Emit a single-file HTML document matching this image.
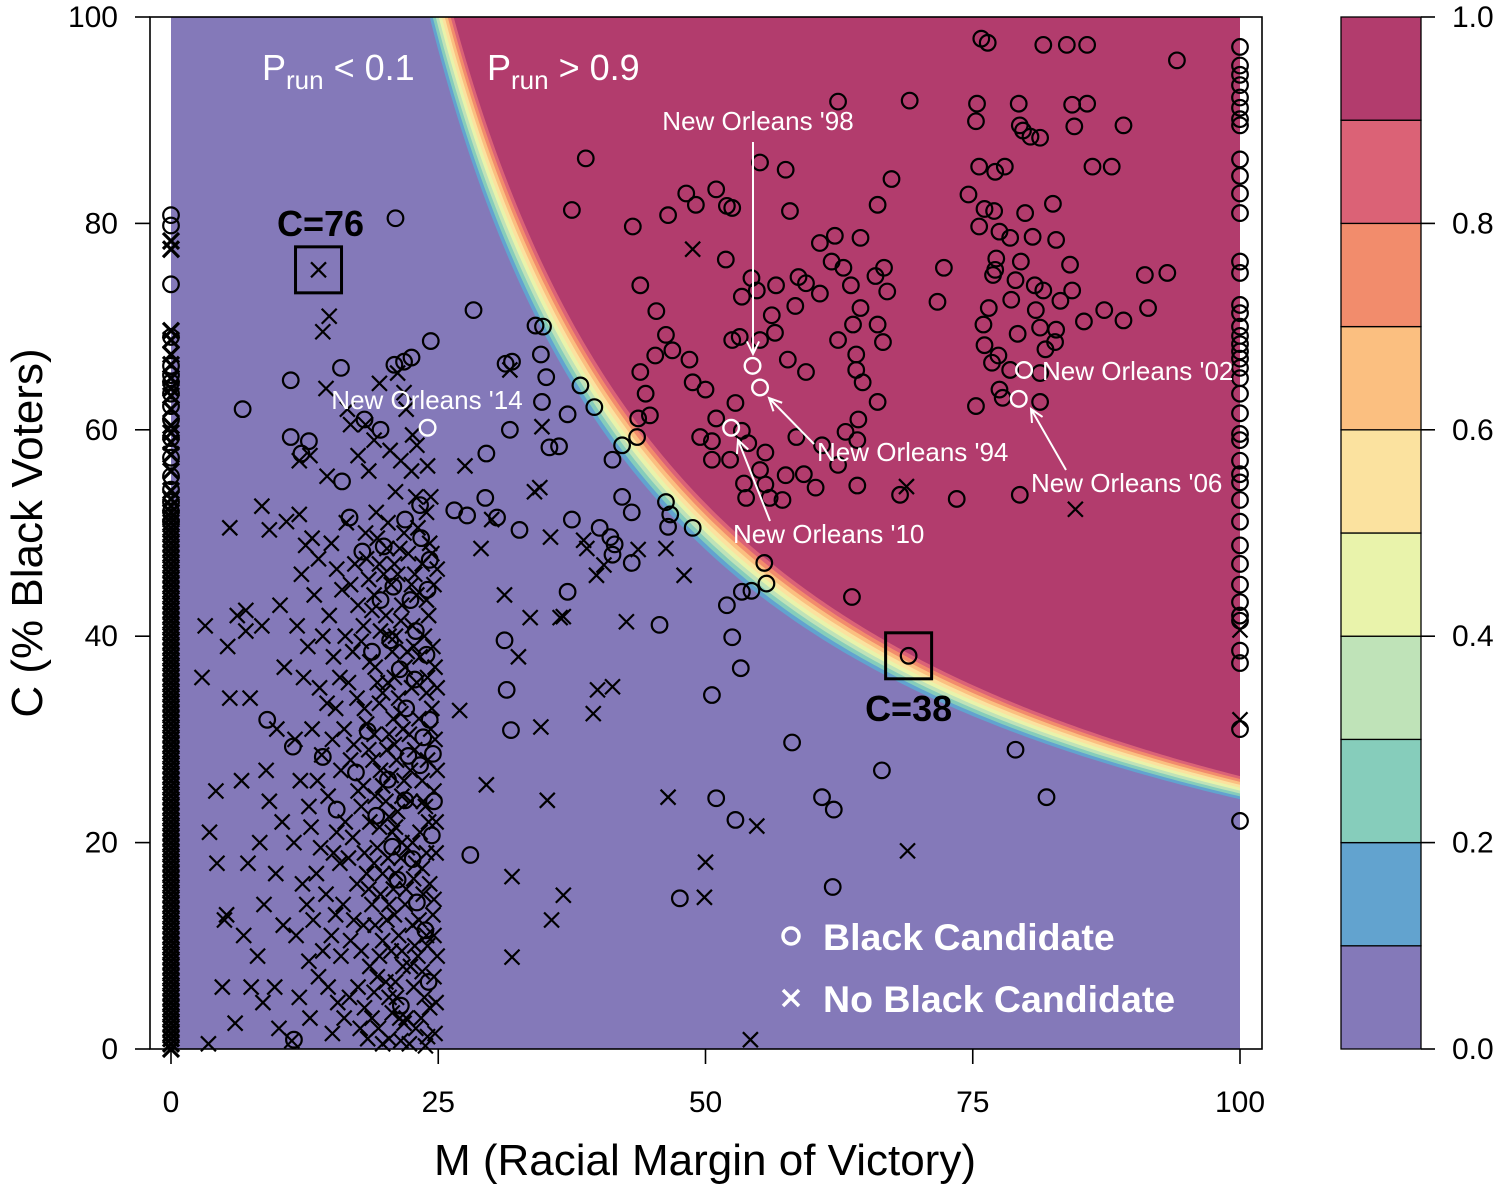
<!DOCTYPE html>
<html><head><meta charset="utf-8">
<style>
html,body{margin:0;padding:0;background:#fff;}
svg{display:block;font-family:"Liberation Sans",Arial,sans-serif;}
</style></head>
<body>
<svg id="chart" width="1502" height="1197" viewBox="0 0 1502 1197" xmlns="http://www.w3.org/2000/svg">
<g id="fills"></g>
<g id="marks"></g>
<g id="annot"></g>
<g id="axes"></g>
<g id="cbar"></g>
</svg>
<script>
// ---------- data ----------
const xTicks = [0, 25, 50, 75, 100];
const yTicks = [0, 20, 40, 60, 80, 100];
const cbarTicks = ["0.0", "0.2", "0.4", "0.6", "0.8", "1.0"];
const levelProbs = [0.1, 0.2, 0.3, 0.4, 0.5, 0.6, 0.7, 0.8, 0.9];
const levelK = [2420, 2448, 2476, 2504, 2532, 2560, 2588, 2616, 2644];
const levelColors = ["#8479B9", "#62A3CF", "#86CDBB", "#BFE3B8", "#E9F3AB", "#FBE29F", "#FBBF80", "#F28C6C", "#DB6276", "#B23C6D"];

const blackCandidates = [
[38.8,86.3],[37.5,81.3],[43.2,79.7],[43.9,74.0],[45.4,71.5],[46.5,80.8],[48.2,82.9],[49.1,81.8],[51.0,83.3],[52.0,81.7],[52.5,81.5],[55.1,85.9],[57.5,85.2],[62.4,91.8],[69.1,91.9],[67.4,84.3],[66.1,81.8],[64.5,78.6],[62.1,78.8],[60.7,78.1],[57.9,81.2],[51.9,76.5],[53.4,72.9],[54.8,73.5],[56.6,74.0],[54.3,74.7],[59.4,74.2],[58.7,74.8],[61.8,76.3],[62.9,75.7],[63.6,74.0],[65.9,74.9],[66.7,75.7],[67.0,73.4],[66.1,70.2],[64.5,71.8],[63.8,70.2],[60.7,73.2],[58.4,72.0],[56.2,71.1],[56.5,69.4],[53.2,69.0],[52.5,68.7],[55.1,68.7],[57.7,66.8],[59.4,65.6],[62.4,68.7],[64.1,67.3],[64.1,65.8],[66.6,68.5],[64.7,64.6],[46.3,69.2],[45.3,67.2],[43.9,65.6],[44.4,63.5],[46.9,67.7],[48.5,66.8],[48.8,64.6],[50.0,63.9],[51.0,61.1],[52.8,62.6],[44.8,61.4],[43.7,61.1],[42.2,58.5],[43.6,59.3],[41.3,57.1],[39.6,62.2],[38.3,64.3],[37.1,61.5],[35.1,65.1],[34.7,62.7],[34.1,70.1],[34.6,67.3],[49.5,59.3],[50.6,58.9],[53.4,59.9],[54.0,58.7],[55.6,57.8],[58.5,59.3],[57.5,55.6],[59.2,55.7],[55.1,56.1],[55.6,54.7],[53.6,54.8],[53.8,53.4],[52.3,57.1],[50.6,57.1],[56.0,53.4],[57.2,53.2],[60.9,58.5],[63.1,59.8],[64.2,59.0],[64.2,54.6],[68.2,53.7],[73.5,53.3],[66.1,62.7],[64.3,61.0],[62.4,56.6],[60.3,54.4],[55.5,47.1],[55.7,45.1],[54.3,44.4],[53.4,44.3],[52.0,43.0],[52.5,39.9],[53.3,36.9],[50.6,34.3],[51.0,24.3],[52.8,22.2],[58.1,29.7],[60.9,24.4],[62.0,23.2],[61.9,15.7],[63.7,43.8],[66.5,27.0],[47.6,14.6],[46.7,51.8],[46.5,50.6],[48.8,50.5],[41.1,49.6],[41.3,47.9],[43.1,47.1],[45.7,41.1],[43.1,52.0],[42.2,53.5],[40.1,50.5],[37.5,51.3],[28.3,71.6],[31.3,66.4],[31.9,66.6],[34.8,70.0],[31.7,60.0],[29.5,57.7],[26.5,52.2],[27.7,51.7],[29.4,53.4],[30.5,51.5],[32.6,50.3],[36.3,58.4],[37.1,44.3],[31.2,39.6],[31.4,34.8],[31.8,30.9],[28.0,18.8],[35.4,58.3],[41.5,48.9],[46.3,53.0],[69.0,38.1],[79.0,29.0],[81.9,24.4],
[75.8,97.9],[76.4,97.5],[81.6,97.3],[83.8,97.3],[85.7,97.3],[94.1,95.8],[75.4,91.6],[75.3,89.9],[79.3,91.6],[74.6,82.8],[76.1,81.4],[79.4,89.5],[79.7,89.0],[80.4,88.4],[81.3,88.3],[84.3,91.5],[85.7,91.6],[84.5,89.4],[89.1,89.5],[86.2,85.5],[88.0,85.5],[78.0,85.5],[75.6,85.5],[77.1,85.0],[82.5,81.9],[75.6,79.7],[77.0,81.2],[77.5,79.2],[78.5,78.6],[79.9,81.0],[80.6,78.7],[82.8,78.4],[84.1,76.0],[83.2,72.5],[84.3,73.5],[79.5,76.3],[79.0,74.5],[78.6,72.6],[77.2,76.6],[77.1,75.5],[76.9,75.0],[76.5,71.8],[76.0,70.2],[76.1,68.2],[76.8,66.5],[77.5,63.9],[78.5,65.8],[77.4,67.2],[79.2,69.3],[81.3,69.9],[82.8,69.7],[81.8,67.8],[82.7,68.5],[81.3,65.5],[81.3,62.7],[85.4,70.5],[87.3,71.6],[89.1,70.6],[91.4,71.8],[91.1,75.0],[93.2,75.2],[79.4,53.7],[75.3,62.3],[72.3,75.7],[71.7,72.4],[77.8,63.1],[80.8,74.0],[81.6,73.5],[80.9,71.6],
[21.0,80.5],[11.2,64.8],[6.7,62.0],[24.3,68.6],[22.5,67.0],[21.8,66.6],[20.9,66.3],[15.9,66.0],[11.2,59.3],[12.9,58.9],[12.2,57.7],[16.0,55.0],[16.7,51.5],[17.9,48.2],[19.9,48.7],[21.9,51.3],[23.3,52.7],[19.6,43.5],[20.5,39.6],[22.8,35.8],[24.2,31.9],[20.3,26.1],[23.3,27.5],[21.9,24.1],[24.4,20.7],[21.2,16.4],[23.8,11.5],[22.4,43.5],[24.2,47.4],[18.1,61.0],[19.6,60.0],[11.5,0.9],[9.0,31.9],[11.4,29.3],[14.2,28.3],[15.5,23.2],[24.0,44.5],[22.0,33.0],[18.8,38.5],
[23.4,49.5],[20.8,44.8],[22.9,40.5],[21.4,36.8],[23.6,30.2],[22.2,28.4],[24.6,24.0],[20.7,19.6],[23.0,14.2],[24.1,6.5],[21.5,4.2],[18.4,30.8],[17.3,26.8],[19.2,22.6],[23.9,38.2],[24.5,28.6],[22.6,18.4]
];
const blackZeroC = [80.8,79.8,74.1,69.0,66.2,65.3,64.6,63.5,62.3,61.0,59.2,57.3,55.5,54.2,53.0,52.1,51.1];
const blackHundredC = [97.1,95.3,94.4,93.4,92.2,91.2,90.1,89.5,86.2,84.6,82.9,81.0,76.3,75.2,72.1,71.3,70.0,69.1,68.3,67.6,66.9,66.0,65.0,63.5,61.6,59.6,59.0,57.0,55.7,54.9,53.2,51.1,48.8,47.0,45.0,43.3,42.0,41.5,38.6,37.4,31.0,22.1];

const noBlackCandidates = [
[24.2,49],[23.5,47],[24.6,45],[23.0,44],[24.1,42],[22.6,41],[24.5,39],[23.3,38],[24.0,36],[22.5,35],[24.4,33],[23.2,32],[24.7,30],[22.8,29],[24.0,28],[23.5,26],[24.6,25],[22.4,24],[24.1,22],[23.3,21],[24.8,19],[22.9,18],[24.2,16],[23.6,15],[24.5,13],[22.6,12],[24.0,10],[23.1,9],[24.6,7],[22.7,6],[24.2,4],[23.4,3],[24.7,1.5],[22.3,0.5],[23.8,0.3],[21.5,0.8],[24.9,46.5],[22.2,48],[23.9,52],[22.9,53.5],[21.8,50],[21.2,46],[21.6,43],[21.0,40],[21.9,37],[21.3,34],[21.7,31],[21.1,28],[21.8,26],[21.2,23],[21.6,20],[21.0,17],[21.9,14],[21.3,11],[21.7,8],[21.1,5],[21.8,2.5],[20.4,1],[20.2,48.5],[20.6,45],[20.1,42],[20.7,38.5],[20.3,35.5],[20.8,32],[20.2,29],[20.6,26.5],[20.1,24],[20.7,21],[20.3,18.5],[20.8,15.5],[20.2,12.5],[20.6,9.5],[20.1,6.5],[20.7,3.5],[19.2,52],[19.5,47],[19.0,44],[19.6,40.5],[19.1,37],[19.5,33.5],[19.0,30.5],[19.6,27],[19.1,24.5],[19.5,21.5],[19.0,18],[19.6,15],[19.1,12],[19.5,9],[19.0,5.5],[19.4,2],[18.2,50],[18.5,45.5],[18.0,41],[18.6,37.5],[18.1,33],[18.5,29],[18.0,25.5],[18.6,22],[18.1,19],[18.5,15.5],[18.0,12],[18.6,8],[18.1,4],[18.4,1],[17.2,47],[17.5,43],[17.0,38.5],[17.4,34],[17.1,29.5],[17.5,25],[17.0,20.5],[17.4,16],[17.1,12.5],[17.5,6],[16.4,51],[16.0,44.5],[16.3,40],[15.8,36],[16.2,31],[15.9,27],[16.3,22],[15.8,18],[16.1,14],[15.9,9],[16.2,3],[15.0,49],[14.8,42],[15.2,38],[14.6,33.5],[15.1,30],[14.7,24.5],[15.2,19],[14.5,15],[15.0,11],[14.7,6],[15.1,1.5],[13.8,47.5],[13.4,44],[13.9,35],[13.2,31],[13.7,26],[13.1,21.5],[13.6,17],[13.3,12.5],[13.8,7],[13.0,3],[12.2,46],[11.8,41],[12.4,36],[11.6,30],[12.1,26],[11.5,20],[12.3,16],[11.7,11],[12.0,5],[11.3,0.8],[10.2,43],[10.6,37],[9.9,31],[10.4,22],[9.8,17],[10.5,12],[9.7,6],[10.1,2],[8.5,41],[8.9,27],[8.3,20],[8.7,14],[8.1,9],[8.6,4.5],[7.0,40.5],[7.4,34],[6.6,26],[7.2,18],[6.8,11],[7.5,6],[6.2,42],[5.3,39],[5.5,34],[4.2,25],[3.6,21],[4.3,18],[3.2,41],[4.8,6],[5.2,13],[3.5,0.5],[6.0,2.5],[2.9,36],[5.0,12.5],[9.2,24],[5.5,50.5],[7.0,42.5],[9.2,50.3],[8.5,52.6],[10.8,51.1],[12.0,51.8],[12.6,48.8],[13.2,49.5],[14.6,55.5],[12.0,57],[13.0,57.5],[17.5,57.5],[18.2,60.5],[19.0,59],[20.5,58],[21.5,57],[22.5,56],[23.0,58.5],[24.0,56.5],[16.5,62],[14.5,64],[22.0,62],[22.6,59.5],[19.5,64.5],[13.8,75.5],[14.2,69.5],[14.8,71],[21.2,65.5],[21.8,63.6],[16.8,60.5],[21.0,54],[18.5,56],
[22.8,46],[23.7,40],[22.1,38.5],[23.9,34.5],[22.3,30.5],[23.8,23.5],[22.1,19.5],[23.5,17.5],[22.0,15.5],[23.9,11],[22.4,8],[23.7,5],[22.0,3],[24.9,27],[24.9,9],[24.9,35],[24.3,53.5],
[23.1,50.5],[24.4,48],[22.5,45],[23.9,43.5],[22.7,39],[24.7,37],[23.0,35.5],[24.3,31],[22.4,27],[23.6,24],[24.8,22],[22.6,20],[23.9,19],[22.7,16.5],[24.6,14.5],[23.2,12.5],[24.6,11],[22.8,10],[23.5,7.5],[24.8,4.5],[22.9,2],[24.0,1.2],[21.4,48.5],[20.9,47],[21.5,41.5],[20.9,36],[21.5,32.5],[20.9,29.5],[21.6,24.5],[21.0,21.5],[21.5,18.5],[20.9,13],[21.6,9.5],[21.0,6.5],[21.4,3],[20.3,51],[19.9,46],[20.4,40],[19.8,34.5],[20.4,30.5],[19.8,25.5],[20.4,22.5],[19.8,17],[20.4,14],[19.8,10.5],[20.4,5],[19.8,0.5],[19.3,49.5],[18.8,42.5],[19.3,35.5],[18.9,28],[19.3,19.5],[18.8,14],[19.3,7],[18.8,3],[18.3,47.5],[17.8,39.5],[18.3,31.5],[17.8,23.5],[18.3,17],[17.8,9.5],[17.7,2],[16.8,45],[16.6,35.5],[16.8,28],[16.6,18.5],[16.8,10.5],[16.7,5],[15.5,46.5],[15.4,33],[15.5,21],[15.4,13],[15.6,4.5],[14.2,40],[14.1,28.5],[14.0,19.5],[14.2,9.5],[12.8,39],[12.9,23.5],[12.7,14],[12.9,8.5]
];
const extraScatter = [
[34.5,54.4],[34.0,54.0],[35.5,49.6],[38.9,48.5],[39.8,45.9],[36.4,41.8],[43.7,48.4],[46.3,48.5],[48.0,45.9],[50.0,18.1],[46.5,24.4],[49.9,14.7],[54.8,21.6],[36.7,14.9],[35.6,12.5],[31.9,16.7],[31.9,8.9],[35.2,24.1],[29.5,25.6],[27.0,32.8],[31.2,44.0],[32.5,38.0],[33.6,41.8],[34.6,31.2],[36.7,41.9],[39.9,34.8],[41.3,35.1],[42.6,41.4],[54.2,0.9],[48.8,77.5],[68.9,19.2],[84.6,52.3],[68.8,54.5],[38.6,49.3],[40.5,46.9],[30.0,51.3],[31.7,65.8],[34.7,60.3],[39.5,32.5],[29.0,48.5],[27.5,56.5]
];
const noBlackZeroC = [0,0.5,1.0,1.5,2.0,2.5,3.0,3.5,4.0,4.5,5.0,5.5,6.0,6.5,7.0,7.5,8.0,8.5,9.0,9.5,10.0,10.5,11.0,11.5,12.0,12.5,13.0,13.5,14.0,14.5,15.0,15.5,16.0,16.5,17.0,17.5,18.0,18.5,19.0,19.5,20.0,20.5,21.0,21.5,22.0,22.5,23.0,23.5,24.0,24.5,25.0,25.5,26.0,26.5,27.0,27.5,28.0,28.5,29.0,29.5,30.0,30.5,31.0,31.5,32.0,32.5,33.0,33.5,34.0,34.5,35.0,35.5,36.0,36.5,37.0,37.5,38.0,38.5,39.0,39.5,40.0,40.5,41.0,41.5,42.0,42.5,43.0,43.5,44.0,44.5,45.0,45.5,46.0,46.5,47.0,47.5,48.0,48.5,49.0,49.5,50.0,50.5,51.0,51.5,52.0,52.6,53.3,54.1,56.0,57.6,58.8,59.7,60.4,62.0,63.3,64.0,65.0,66.3,67.3,68.7,69.6,77.5,78.3];
const noBlackHundredC = [40.6, 31.9];

const highlightBoxes = [[13.8,75.5,"C=76"],[69.0,38.1,"C=38"]];

// ---------- scales ----------
const X0 = 171, X1 = 1240, Y0 = 1049, Y1 = 17;
function sx(m){ return X0 + (m/100)*(X1-X0); }
function sy(c){ return Y0 - (c/100)*(Y0-Y1); }
const NS = "http://www.w3.org/2000/svg";
function mk(tag, attrs, parent){
  const e = document.createElementNS(NS, tag);
  for (const k in attrs) e.setAttribute(k, attrs[k]);
  parent.appendChild(e);
  return e;
}
const fills = document.getElementById('fills');
const marks = document.getElementById('marks');
const annot = document.getElementById('annot');
const axes = document.getElementById('axes');
const cbar = document.getElementById('cbar');

// ---------- surface ----------
const base = mk('rect', {x:X0, y:Y1, width:X1-X0, height:Y0-Y1, fill:levelColors[0]}, fills);


levelK.forEach(function(k, i){
  let d = "M" + sx(k/100) + "," + sy(100);
  const mStart = k/100;
  for (let s = 0; s <= 200; s++){
    const m = mStart + (100 - mStart) * s / 200;
    d += " L" + sx(m).toFixed(2) + "," + sy(k/m).toFixed(2);
  }
  d += " L" + sx(100) + "," + sy(100) + " Z";
  const p = mk('path', {d:d, fill:levelColors[i+1]}, fills);
  
  
});

// ---------- markers ----------
function circ(m, c, col){
  const e = mk('circle', {cx:sx(m), cy:sy(c), r:7.8, fill:'none', stroke:col||'#000', 'stroke-width':2.2}, marks);
  
  
}
function cross(m, c, h, w){
  const x = sx(m), y = sy(c);
  h = h || 7.5;
  const e = mk('path', {d:`M${x-h},${y-h}L${x+h},${y+h}M${x-h},${y+h}L${x+h},${y-h}`, stroke:'#000', 'stroke-width':w||2.2, fill:'none'}, marks);
  
  
}
noBlackZeroC.forEach(c => cross(0, c, 8, 3.2));
noBlackCandidates.forEach(p => cross(p[0], p[1]));
extraScatter.forEach(p => cross(p[0], p[1]));
noBlackHundredC.forEach(c => cross(100, c));
blackZeroC.forEach(c => circ(0, c));
blackCandidates.forEach(p => circ(p[0], p[1]));
blackHundredC.forEach(c => circ(100, c));

// highlight boxes
highlightBoxes.forEach(function(b, i){
  const r = mk('rect', {x:sx(b[0])-23, y:sy(b[1])-23, width:46, height:46, fill:'none', stroke:'#000', 'stroke-width':3}, annot);
  
  
  const ty = i === 0 ? sy(b[1]) - 34 : sy(b[1]) + 65;
  const t = mk('text', {x:sx(b[0]) + (i===0?2:0), y:ty, 'text-anchor':'middle', 'font-size':36, 'font-weight':'bold', fill:'#000'}, annot);
  t.textContent = b[2];
  
  
});

// ---------- New Orleans annotations ----------
const noPoints = [[24.0,60.2],[54.4,66.2],[55.1,64.1],[52.4,60.2],[79.8,65.8],[79.3,63.0]];
noPoints.forEach(function(p){
  const e = mk('circle', {cx:sx(p[0]), cy:sy(p[1]), r:7.8, fill:'none', stroke:'#fff', 'stroke-width':2.4}, annot);
  
  
});
function label(txt, x, y, anchor, name){
  const t = mk('text', {x:x, y:y, 'text-anchor':anchor, 'font-size':26, fill:'#fff'}, annot);
  t.textContent = txt;
  
  
}
function arrow(x1, y1, x2, y2, name){
  const a = Math.atan2(y2-y1, x2-x1), L = 14, w = 0.45;
  const d = `M${x1},${y1}L${x2},${y2}M${x2-L*Math.cos(a-w)},${y2-L*Math.sin(a-w)}L${x2},${y2}L${x2-L*Math.cos(a+w)},${y2-L*Math.sin(a+w)}`;
  const e = mk('path', {d:d, stroke:'#fff', 'stroke-width':2, fill:'none'}, annot);
  
  
}
label("New Orleans '14", 427, 409, 'middle', 'label-new-orleans-14');
label("New Orleans '98", 758, 130, 'middle', 'label-new-orleans-98');
arrow(753, 142, 753, 354, 'arrow-new-orleans-98');
label("New Orleans '94", 817, 461, 'start', 'label-new-orleans-94');
arrow(814, 444, 769, 398, 'arrow-new-orleans-94');
label("New Orleans '10", 733, 543, 'start', 'label-new-orleans-10');
arrow(770, 521, 738, 440, 'arrow-new-orleans-10');
label("New Orleans '02", 1042, 380, 'start', 'label-new-orleans-02');
label("New Orleans '06", 1031, 492, 'start', 'label-new-orleans-06');
arrow(1066, 470, 1031, 409, 'arrow-new-orleans-06');

// P_run labels
function prun(x, txt, name){
  const t = mk('text', {x:x, y:80, 'font-size':36, fill:'#fff'}, annot);
  t.innerHTML = 'P<tspan font-size="26" dy="9">run</tspan><tspan dy="-9"> ' + txt + '</tspan>';
  
  
}
prun(262, '&lt; 0.1', 'label-prun-low');
prun(487, '&gt; 0.9', 'label-prun-high');

// legend
const lg = mk('g', {}, annot);


const lc = mk('circle', {cx:791, cy:936, r:8, fill:'none', stroke:'#fff', 'stroke-width':3.5}, lg);


const lx = mk('path', {d:'M783,990L799,1006M783,1006L799,990', stroke:'#fff', 'stroke-width':3.5}, lg);


const lt1 = mk('text', {x:823, y:950, 'font-size':37.5, 'font-weight':'bold', fill:'#fff'}, lg);
lt1.textContent = 'Black Candidate';


const lt2 = mk('text', {x:823, y:1012, 'font-size':37.5, 'font-weight':'bold', fill:'#fff'}, lg);
lt2.textContent = 'No Black Candidate';



// ---------- axes ----------
const frame = mk('rect', {x:150, y:17, width:1112, height:1032, fill:'none', stroke:'#000', 'stroke-width':1.6}, axes);


xTicks.forEach(function(v){
  const tk = mk('line', {x1:sx(v), x2:sx(v), y1:1049, y2:1064, stroke:'#000', 'stroke-width':1.6}, axes);
  
  
  const t = mk('text', {x:sx(v), y:1112, 'text-anchor':'middle', 'font-size':30, fill:'#000'}, axes);
  t.textContent = v;
  
  
});
yTicks.forEach(function(v){
  const tk = mk('line', {x1:135, x2:150, y1:sy(v), y2:sy(v), stroke:'#000', 'stroke-width':1.6}, axes);
  
  
  const t = mk('text', {x:118, y:sy(v)+10, 'text-anchor':'end', 'font-size':30, fill:'#000'}, axes);
  t.textContent = v;
  
  
});
const xt = mk('text', {x:705, y:1175, 'text-anchor':'middle', 'font-size':44, fill:'#000'}, axes);
xt.textContent = 'M (Racial Margin of Victory)';


const yt = mk('text', {x:0, y:0, 'text-anchor':'middle', 'font-size':44, fill:'#000', transform:'translate(42,533) rotate(-90)'}, axes);
yt.textContent = 'C (% Black Voters)';



// ---------- color bar ----------
const CB0 = 1341, CB1 = 1421;
function cy(p){ return 1049 - p * (1049 - 17); }
levelColors.forEach(function(col, i){
  const lo = i/10, hi = (i+1)/10;
  const r = mk('rect', {x:CB0, y:cy(hi), width:CB1-CB0, height:cy(lo)-cy(hi), fill:col, stroke:'#000', 'stroke-width':1.3}, cbar);
  
  
});
cbarTicks.forEach(function(lbl){
  const p = parseFloat(lbl);
  const tk = mk('line', {x1:CB1, x2:1435, y1:cy(p), y2:cy(p), stroke:'#000', 'stroke-width':1.6}, cbar);
  
  
  const t = mk('text', {x:1452, y:cy(p)+10, 'font-size':30, fill:'#000'}, cbar);
  t.textContent = lbl;
  
  
});
</script>
</body></html>
